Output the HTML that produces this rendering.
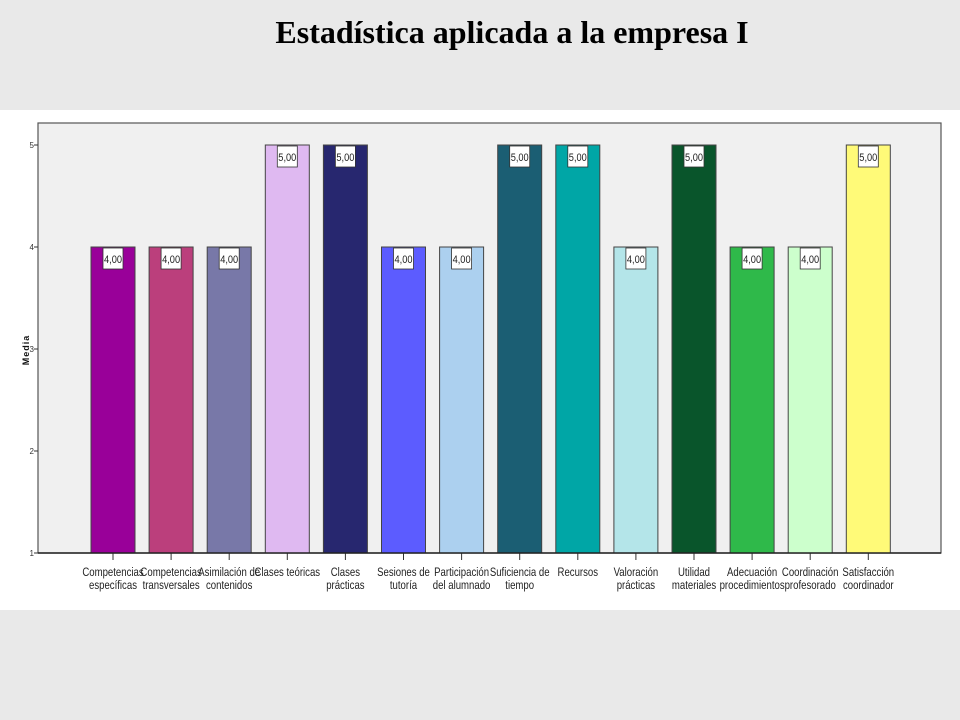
<!DOCTYPE html>
<html><head><meta charset="utf-8">
<style>
html,body{margin:0;padding:0;width:960px;height:720px;background:#e9e9e9;overflow:hidden}
#title{position:absolute;left:0;top:14px;width:1024px;text-align:center;font:bold 32px "Liberation Serif",serif;color:#000}
#panel{position:absolute;left:0;top:110px;width:960px;height:500px;background:#fff}
svg{position:absolute;left:0;top:0}
</style></head>
<body>
<div id="title">Estadística aplicada a la empresa I</div>
<div id="panel"></div>
<svg id="chart" width="960" height="720"></svg>
<script>
const categories=[["Competencias","específicas"],["Competencias","transversales"],["Asimilación de","contenidos"],["Clases teóricas"],["Clases","prácticas"],["Sesiones de","tutoría"],["Participación","del alumnado"],["Suficiencia de","tiempo"],["Recursos"],["Valoración","prácticas"],["Utilidad","materiales"],["Adecuación","procedimientos"],["Coordinación","profesorado"],["Satisfacción","coordinador"]];
const values=[4,4,4,5,5,4,4,5,5,4,5,4,4,5];
const valueLabels=["4,00","4,00","4,00","5,00","5,00","4,00","4,00","5,00","5,00","4,00","5,00","4,00","4,00","5,00"];
const colors=["#990099","#bb3f7c","#7878a8","#dfb9f1","#27276f","#5c5cff","#acd0ef","#1b5e73","#00a6a6","#b4e5e9","#09552b","#2fb94a","#ccffcc","#fffa78"];
const yTicks=[1,2,3,4,5];
const NS="http://www.w3.org/2000/svg";
const svg=document.getElementById('chart');
const L=38,R=941,T=123,B=553,firstC=113,step=58.1,bw=44;
const y=v=>B-(v-1)*102;
const x=i=>firstC+i*step;
function mk(tag,attrs,parent){const e=document.createElementNS(NS,tag);for(const k in attrs)e.setAttribute(k,attrs[k]);(parent||svg).appendChild(e);return e;}
const frame=mk('rect',{x:L,y:T,width:R-L,height:B-T,fill:'#f0f0f0',stroke:'#555','stroke-width':1.2});


yTicks.forEach(t=>{
  const ln=mk('line',{x1:L-4,x2:L,y1:y(t),y2:y(t),stroke:'#333'});
  
  
  const tx=mk('text',{x:L-4,y:y(t)+3,'text-anchor':'end','font-size':8,'font-family':'Liberation Sans Narrow, Liberation Sans, sans-serif',fill:'#333'});
  tx.textContent=t;
  
  
});
const yt=mk('text',{x:0,y:0,transform:'translate(29,350) rotate(-90)','text-anchor':'middle','font-size':9,'font-weight':'bold','font-family':'Liberation Sans, sans-serif',fill:'#111','letter-spacing':'1'});
yt.textContent='Media';


values.forEach((v,i)=>{
  const cx=x(i);
  const b=mk('rect',{x:cx-bw/2,y:y(v),width:bw,height:B-y(v),fill:colors[i],stroke:'#444','stroke-width':1});
  
  
  const lb=mk('rect',{x:cx-10,y:y(v)+1,width:20,height:21,fill:'#fff',stroke:'#333','stroke-width':0.8});
  
  
  const lt=mk('text',{x:cx,y:y(v)+16,'text-anchor':'middle','font-size':11,'font-family':'Liberation Sans Narrow, Liberation Sans, sans-serif',fill:'#222',textLength:18,lengthAdjust:'spacingAndGlyphs'});
  lt.textContent=valueLabels[i];
  
  
  const tk=mk('line',{x1:cx,x2:cx,y1:B,y2:B+7,stroke:'#333'});
  
  
  categories[i].forEach((s,j)=>{
    const ct=mk('text',{x:cx,y:B+23+j*13,'text-anchor':'middle','font-size':12,'font-family':'Liberation Sans Narrow, Liberation Sans, sans-serif',fill:'#222',transform:`translate(${cx},0) scale(0.8,1) translate(${-cx},0)`});
    ct.textContent=s;
    
    
  });
});
const ax=mk('line',{x1:L,x2:R,y1:B,y2:B,stroke:'#222','stroke-width':1.5});


</script>
</body></html>
